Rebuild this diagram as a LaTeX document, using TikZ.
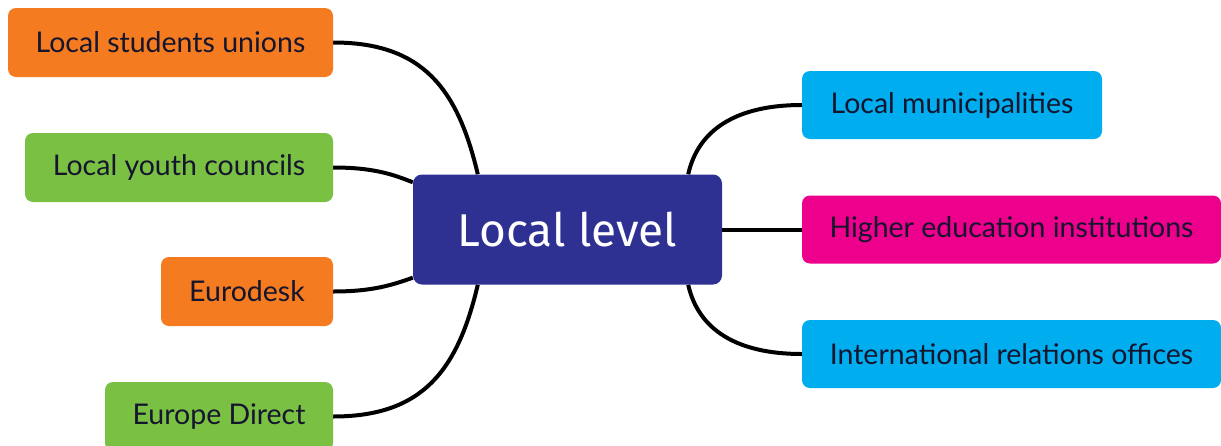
\documentclass[tikz,border=0pt]{standalone}
\usepackage{fontspec}
\setmainfont{Lato}
\newfontfamily\titlefont{Fira Sans}
\usetikzlibrary{backgrounds}
\definecolor{corange}{HTML}{F47B20}
\definecolor{cgreen}{HTML}{7AC143}
\definecolor{cnavy}{HTML}{2E3192}
\definecolor{ccyan}{HTML}{00AEEF}
\definecolor{cmag}{HTML}{EC008C}
\definecolor{ctext}{HTML}{15152E}
\tikzset{
  leaf/.style={rounded corners=8pt, minimum height=69pt, inner sep=0pt, font=\fontsize{28.5}{32}\selectfont, text=ctext},
  hub/.style={rounded corners=9pt, fill=cnavy, text=white, minimum width=309pt, minimum height=110pt, inner sep=0pt, font=\titlefont\fontsize{46}{52}\selectfont},
  link/.style={line width=4pt, black}
}
\begin{document}
\begin{tikzpicture}[x=1pt,y=-1pt]
\useasboundingbox (0,0) rectangle (1221,445);
\node[hub] (c) at (567.5,229.5) {Local level};
\node[leaf, fill=corange, minimum width=325pt] (lsu) at (170.5,42.5) {Local students unions};
\node[leaf, fill=cgreen, minimum width=308pt] (lyc) at (179,167.5) {Local youth councils};
\node[leaf, fill=corange, minimum width=172pt] (eur) at (247,291.5) {Eurodesk};
\node[leaf, fill=cgreen, minimum width=228pt] (ed) at (219,416.5) {Europe Direct};
\node[leaf, fill=ccyan, minimum width=300pt, minimum height=68pt] (lm) at (952,105) {Local municipalities};
\node[leaf, fill=cmag, minimum width=419pt, minimum height=68pt] (hei) at (1011.5,229.5) {Higher education institutions};
\node[leaf, fill=ccyan, minimum width=419pt, minimum height=68pt] (iro) at (1011.5,354) {International relations offices};
\begin{scope}[on background layer]
\draw[link] (lsu.east) .. controls +(90,0) and +(-20,-85) .. ([xshift=65pt]c.north west);
\draw[link] (lyc.east) .. controls +(40,0) and +(-20,-8) .. ([yshift=-8pt]c.north west);
\draw[link] (eur.east) .. controls +(40,0) and +(-20,7) .. ([yshift=7pt]c.south west);
\draw[link] (ed.east) .. controls +(90,0) and +(-20,85) .. ([xshift=65pt]c.south west);
\draw[link] (lm.west) .. controls +(-65,0) and +(10,-45) .. ([xshift=-34pt]c.north east);
\draw[link] (c.east) -- (hei.west);
\draw[link] (iro.west) .. controls +(-65,0) and +(10,45) .. ([xshift=-34pt]c.south east);
\end{scope}
\end{tikzpicture}
\end{document}
